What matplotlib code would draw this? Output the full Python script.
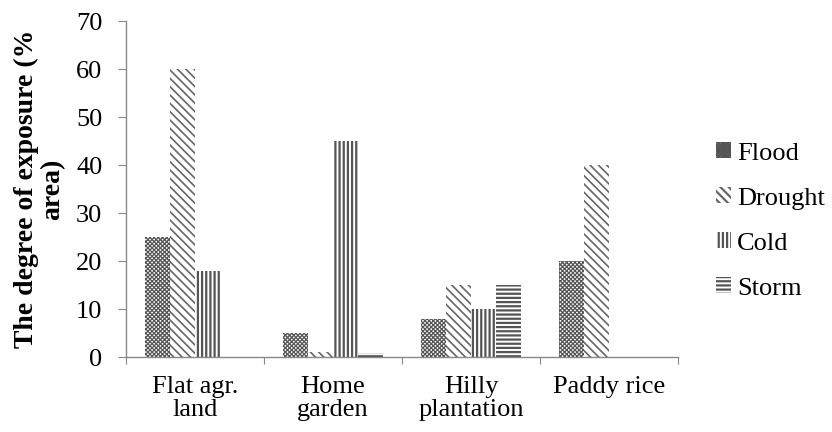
import numpy as np
import matplotlib.pyplot as plt
from matplotlib.ticker import FixedLocator, NullFormatter

plt.rcParams['font.family'] = ['Liberation Serif', 'DejaVu Serif']
plt.rcParams['hatch.linewidth'] = 1.6

categories = ['Flat agr.\nland', 'Home\ngarden', 'Hilly\nplantation', 'Paddy rice']
hazards = ['Flood', 'Drought', 'Cold', 'Storm']
flood = [25, 5, 8, 20]
drought = [60, 1, 15, 40]
cold = [18, 45, 10, 0]
storm = [0, 0.8, 15, 0]
series = [flood, drought, cold, storm]
hatches = ['xxxxxxxx', '\\\\\\\\', '||||', '----']
hatch_lw = [0.9, 1.2, 1.6, 1.6]
hatch_col = ['#555555', '#666666', '#555555', '#555555']

fig = plt.figure(figsize=(8.32, 4.32), dpi=100)
ax = fig.add_axes([0.1514, 0.1736, 0.6635, 0.7774])

x = np.arange(len(categories))
w = 0.18
for i, vals in enumerate(series):
    with plt.rc_context({'hatch.linewidth': hatch_lw[i]}):
        ax.bar(x + (i - 1.5) * w, vals, w, color='white', edgecolor=hatch_col[i],
               linewidth=0, hatch=hatches[i], label=hazards[i])

ax.set_xlim(-0.5, len(categories) - 0.5)
ax.set_ylim(0, 70)
ax.set_yticks(range(0, 71, 10))

# boundaries carry the tick marks, centres carry the labels
ax.xaxis.set_major_locator(FixedLocator(np.arange(-0.5, len(categories), 1.0)))
ax.xaxis.set_major_formatter(NullFormatter())
ax.xaxis.set_minor_locator(FixedLocator(x))
ax.set_xticklabels(categories, minor=True)
for t in ax.get_xticklabels(minor=True):
    t.set_linespacing(1.05)
ax.tick_params(axis='x', which='major', length=5, color='#888888', direction='out')
ax.tick_params(axis='x', which='minor', length=0, pad=14, labelsize=19)
ax.tick_params(axis='y', length=6, color='#888888', labelsize=19, pad=11)

for s in ['top', 'right']:
    ax.spines[s].set_visible(False)
for s in ['left', 'bottom']:
    ax.spines[s].set_color('#888888')
    ax.spines[s].set_linewidth(1.0)

ax.set_ylabel('The degree of exposure (%\narea)', fontsize=20, fontweight='bold',
              linespacing=1.05)
ax.yaxis.set_label_coords(-0.11, 0.5)

fig.legend(loc='center left', bbox_to_anchor=(716 / 832, 1 - 221 / 432), frameon=False,
           fontsize=19, handlelength=0.55, handleheight=0.55, handletextpad=0.25,
           labelspacing=0.86, borderpad=0, borderaxespad=0)

fig.savefig('out.png', dpi=100)
